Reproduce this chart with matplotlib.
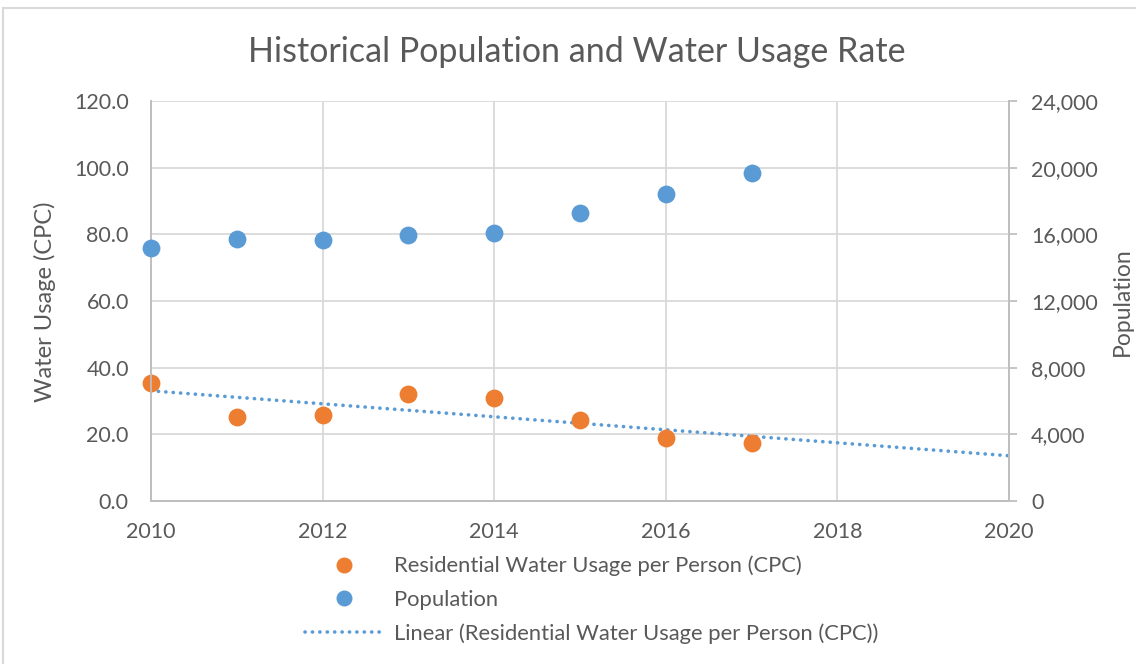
import matplotlib
matplotlib.use("Agg")
import matplotlib.pyplot as plt
import numpy as np
from matplotlib.ticker import FuncFormatter, MultipleLocator
from matplotlib.patches import Rectangle
from matplotlib.lines import Line2D

plt.rcParams['font.family'] = ['Lato', 'DejaVu Sans']

years = [2010, 2011, 2012, 2013, 2014, 2015, 2016, 2017]
water_usage = [35.5, 25.1, 25.7, 32.2, 30.8, 24.4, 18.9, 17.3]
population = [15200, 15740, 15640, 15940, 16060, 17300, 18420, 19680]
trend_years = [2010, 2020]

title = "Historical Population and Water Usage Rate"
label_water = "Residential Water Usage per Person (CPC)"
label_pop = "Population"
label_trend = "Linear (Residential Water Usage per Person (CPC))"

TEXT = "#595959"
GRID = "#D9D9D9"
ORANGE = "#ED7D31"
BLUE = "#5B9BD5"
DOTS = (0, (0.05, 2.0))

fig = plt.figure(figsize=(11.36, 6.64), dpi=100)
fig.patches.append(Rectangle((3/1136, -0.1), 1.2, 1.1 - 8/664, transform=fig.transFigure,
                             fill=False, edgecolor=GRID, linewidth=1.5, zorder=0))

ax = fig.add_axes([151/1136, 1 - 501/664, 858/1136, 400/664])
ax2 = ax.twinx()

ax.set_xlim(2010, 2020)
ax.set_ylim(0, 120)
ax2.set_ylim(0, 24000)

ax.xaxis.set_major_locator(MultipleLocator(2))
ax.yaxis.set_major_locator(MultipleLocator(20))
ax2.yaxis.set_major_locator(MultipleLocator(4000))
ax.yaxis.set_major_formatter(FuncFormatter(lambda v, p: f"{v:.1f}"))
ax2.yaxis.set_major_formatter(FuncFormatter(lambda v, p: f"{int(v):,}"))

ax.grid(True, color=GRID, linewidth=1.3)
ax.set_axisbelow(True)
ax.spines['top'].set_visible(False)
ax2.spines['top'].set_visible(False)
for a in (ax, ax2):
    for s in ['left', 'right', 'bottom']:
        a.spines[s].set_color('#BFBFBF')
        a.spines[s].set_linewidth(1.3)

ax.tick_params(axis='y', length=0, colors=TEXT, labelsize=15.5, pad=16)
ax.tick_params(axis='x', length=0, colors=TEXT, labelsize=15.5, pad=15)
ax2.tick_params(axis='y', length=6, color='#BFBFBF', width=1.3, colors=TEXT, labelsize=15.5, pad=10)

fig.text(45/1136, 1 - 302/664, "Water Usage (CPC)", rotation=90, ha='center', va='center',
         color=TEXT, fontsize=17)
fig.text(1122/1136, 1 - 302/664, label_pop, rotation=90, ha='center', va='center',
         color=TEXT, fontsize=16.5)

# trend line
coef = np.polyfit(years, water_usage, 1)
ty = np.polyval(coef, trend_years)
ax.plot(trend_years, ty, linestyle=DOTS, color=BLUE, linewidth=2.6,
        dash_capstyle='round', zorder=2, clip_on=False)

ax.scatter(years, water_usage, s=165, color=ORANGE, zorder=3, clip_on=False, linewidths=0)
ax2.scatter(years, population, s=165, color=BLUE, zorder=3, clip_on=False, linewidths=0)

fig.text(577/1136, 1 - 52/664, title, ha='center', va='center', fontsize=24.5, color=TEXT)

handles = [
    Line2D([], [], marker='o', linestyle='none', color=ORANGE, markersize=11.5, markeredgewidth=0),
    Line2D([], [], marker='o', linestyle='none', color=BLUE, markersize=11.5, markeredgewidth=0),
    Line2D([], [], linestyle=DOTS, color=BLUE, linewidth=2.6, dash_capstyle='round'),
]
leg = fig.legend(handles, [label_water, label_pop, label_trend], loc='upper left',
                 bbox_to_anchor=(285/1136, 1 - 536/664), frameon=False, fontsize=15.8,
                 handlelength=3.6, handletextpad=0.45, labelspacing=0.62,
                 labelcolor=TEXT)

fig.savefig("out.png", dpi=100)
